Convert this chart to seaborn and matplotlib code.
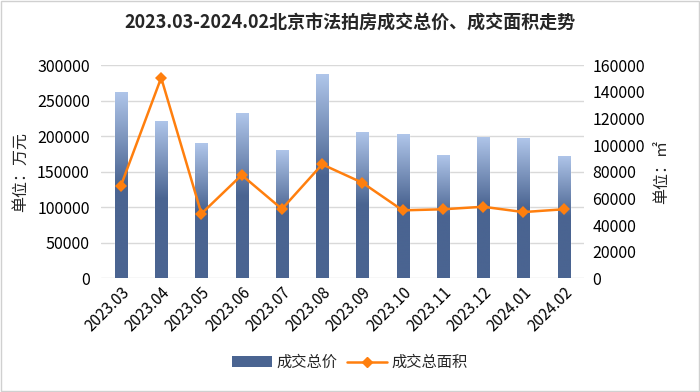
import numpy as np
import pandas as pd
import matplotlib
matplotlib.use("Agg")
import matplotlib.pyplot as plt
import seaborn as sns
from matplotlib.lines import Line2D
from matplotlib.patches import Patch, Rectangle
from matplotlib.colors import LinearSegmentedColormap

months = ["2023.03", "2023.04", "2023.05", "2023.06", "2023.07", "2023.08",
          "2023.09", "2023.10", "2023.11", "2023.12", "2024.01", "2024.02"]
total_price = [262400, 221200, 189900, 232000, 180900, 286900,
               205800, 202500, 173000, 199200, 196900, 172000]
total_area = [69500, 150500, 48500, 77500, 52000, 85500,
              71700, 51000, 51800, 53700, 49700, 51800]
left_ticks = [0, 50000, 100000, 150000, 200000, 250000, 300000]
right_ticks = [0, 20000, 40000, 60000, 80000, 100000, 120000, 140000, 160000]

title = "2023.03-2024.02北京市法拍房成交总价、成交面积走势"
left_label = "单位：万元"
right_label = "单位：㎡"
bar_name = "成交总价"
line_name = "成交总面积"

sns.set_theme(style="white")
plt.rcParams["font.family"] = ["Noto Sans CJK SC", "DejaVu Sans"]
plt.rcParams["axes.unicode_minus"] = False

df = pd.DataFrame({"month": months, "price": total_price, "area": total_area})

fig = plt.figure(figsize=(7.0, 3.92), dpi=100)
ax = fig.add_axes([0.144, 0.29, 0.69, 0.544])

dark = "#4a6491"
light = "#b0c6ea"
sns.barplot(data=df, x="month", y="price", ax=ax, color=dark, width=0.3,
            saturation=1, zorder=2)

# gradient overlay on bars
cmap = LinearSegmentedColormap.from_list("g", [(0, dark), (0.5, dark), (1.0, light)])
grad = np.linspace(0, 1, 256).reshape(-1, 1)
for p in ax.patches:
    x0, y0 = p.get_x(), p.get_y()
    w, h = p.get_width(), p.get_height()
    im = ax.imshow(grad, cmap=cmap, aspect="auto", origin="lower",
                   extent=[x0, x0 + w, y0, y0 + h], zorder=2.5)
    im.set_clip_path(p)

ax.set_xlim(-0.5, len(months) - 0.5)
ax.set_ylim(0, 300000)
ax.set_yticks(left_ticks)
ax.set_yticklabels([str(v) for v in left_ticks], fontsize=11.5)
ax.grid(axis="y", color="#d9d9d9", linewidth=1, zorder=0)
ax.set_axisbelow(True)
for s in ax.spines.values():
    s.set_visible(False)
ax.tick_params(axis="y", length=0, pad=8, colors="black")
ax.tick_params(axis="x", length=0, pad=4, colors="black")
ax.set_xlabel("")
ax.set_ylabel(left_label, fontsize=11.5, labelpad=6)
ax.set_xticks(range(len(months)))
ax.set_xticklabels(months, rotation=45, ha="right", rotation_mode="anchor", fontsize=11)

ax2 = ax.twinx()
sns.lineplot(data=df, x="month", y="area", ax=ax2, color="#ff7f0e", linewidth=1.8,
             marker="D", markersize=6, markeredgewidth=0, sort=False, zorder=4)
ax2.set_ylim(0, 160000)
ax2.set_yticks(right_ticks)
ax2.set_yticklabels([str(v) for v in right_ticks], fontsize=11.5)
ax2.set_ylabel(right_label, fontsize=11.5, labelpad=6, rotation=90)
ax2.yaxis.set_label_position("right")
for s in ax2.spines.values():
    s.set_visible(False)
ax2.tick_params(axis="y", length=0, pad=6, colors="black")
ax2.set_xlabel("")
ax2.grid(False)
ax2.set_xlim(-0.5, len(months) - 0.5)

fig.text(0.5, 0.942, title, ha="center", va="center", fontsize=13, fontweight="bold")

handles = [Patch(facecolor=dark, edgecolor="none"),
           Line2D([0], [0], color="#ff7f0e", lw=1.8, marker="D", markersize=5)]
fig.legend(handles, [bar_name, line_name], loc="center", bbox_to_anchor=(0.5, 0.075),
           ncol=2, frameon=False, fontsize=11, handlelength=2.6, columnspacing=0.6,
           handletextpad=0.3)

fig.patches.append(Rectangle((0.002, 0.003), 0.996, 0.994, transform=fig.transFigure,
                             fill=False, edgecolor="#d0d0d0", linewidth=1))

fig.savefig("out.png", dpi=100)
